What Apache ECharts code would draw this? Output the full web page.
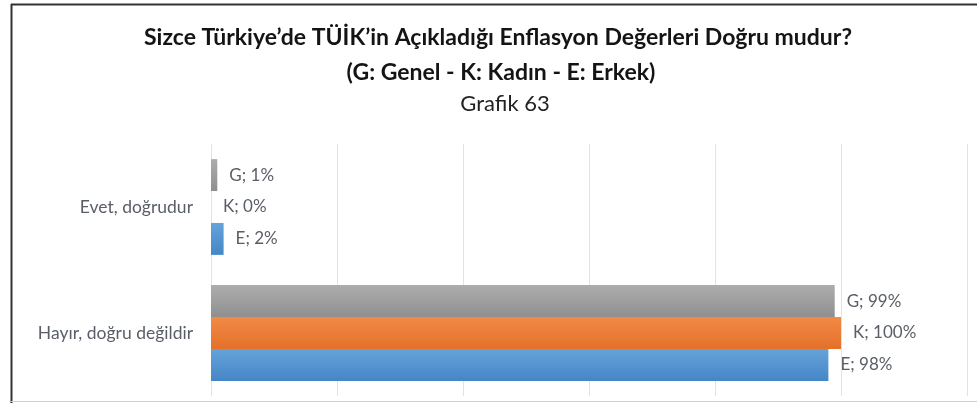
<!DOCTYPE html>
<html><head><meta charset="utf-8">
<script src="https://cdn.jsdelivr.net/npm/echarts@6/dist/echarts.min.js"></script>
<style>html,body{margin:0;padding:0;background:#fff}#c{width:977px;height:403px}</style>
</head><body><div id="c"></div>
<script>
const categories = ['Evet, doğrudur', 'Hayır, doğru değildir'];
const seriesNames = ['G', 'K', 'E'];
const valuesG = [1, 99];
const valuesK = [0, 100];
const valuesE = [2, 98];
const xTicks = [0, 20, 40, 60, 80, 100, 120];
const colors = {
  G: ['#adadad', '#8f8f8f'],
  K: ['#f28a45', '#e4702a'],
  E: ['#65a3da', '#4586c6']
};
const FONT = 'Lato';
function grad(c) {
  return new echarts.graphic.LinearGradient(0, 0, 0, 1, [{offset: 0, color: c[0]}, {offset: 1, color: c[1]}]);
}
const dataMap = {G: valuesG, K: valuesK, E: valuesE};
const chart = echarts.init(document.getElementById('c'));
chart.setOption({
  animation: false,
  backgroundColor: '#fff',
  title: [
    {text: 'Sizce Türkiye’de TÜİK’in Açıkladığı Enflasyon Değerleri Doğru mudur?', left: 493, top: 21, textAlign: 'center',
     textStyle: {fontFamily: FONT, fontWeight: 'bold', fontSize: 23, color: '#141414'}},
    {text: '(G: Genel - K: Kadın - E: Erkek)', left: 496, top: 56, textAlign: 'center',
     textStyle: {fontFamily: FONT, fontWeight: 'bold', fontSize: 23, color: '#141414'}},
    {text: 'Grafik 63', left: 500, top: 88, textAlign: 'center',
     textStyle: {fontFamily: FONT, fontWeight: 'normal', fontSize: 22, color: '#222'}}
  ],
  graphic: [
    {type: 'line', shape: {x1: 11, y1: 4.5, x2: 977, y2: 4.5}, style: {stroke: '#333', lineWidth: 2}},
    {type: 'line', shape: {x1: 11.5, y1: 4, x2: 11.5, y2: 403}, style: {stroke: '#333', lineWidth: 2}},
    {type: 'line', shape: {x1: 11, y1: 401.5, x2: 977, y2: 401.5}, style: {stroke: '#d0d0d0', lineWidth: 1}}
  ],
  grid: {left: 211, top: 144, width: 756, height: 252, containLabel: false},
  xAxis: {
    type: 'value', min: xTicks[0], max: xTicks[xTicks.length - 1], interval: 20,
    axisLabel: {show: false}, axisLine: {show: false}, axisTick: {show: false},
    splitLine: {lineStyle: {color: '#e3e3e3', width: 1}}
  },
  yAxis: {
    type: 'category', data: categories, inverse: true,
    axisLine: {show: true, lineStyle: {color: '#e3e3e3'}}, axisTick: {show: false},
    axisLabel: {fontFamily: FONT, fontSize: 17.5, color: '#5a5e66', margin: 18}
  },
  series: seriesNames.map(n => ({
    name: n, type: 'bar', data: dataMap[n],
    barCategoryGap: '24%', barGap: '0%',
    itemStyle: {color: grad(colors[n])},
    label: {show: true, position: 'right', distance: 12, fontFamily: FONT, fontSize: 17, color: '#5a5e66',
      formatter: p => n + '; ' + p.value + '%'}
  }))
});
</script></body></html>
